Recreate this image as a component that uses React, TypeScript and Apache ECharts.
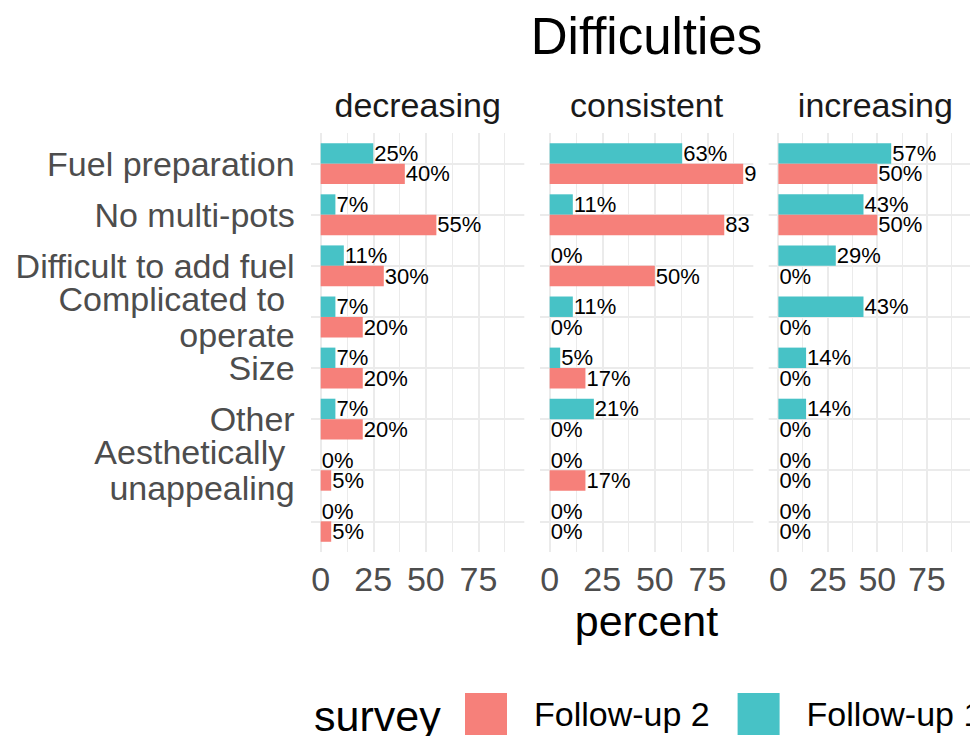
import React, { useEffect, useRef } from "react";
import * as echarts from "echarts";

// ---------------- data ----------------
const categories = [
  "Fuel preparation",
  "No multi-pots",
  "Difficult to add fuel",
  "Complicated to \noperate",
  "Size",
  "Other",
  "Aesthetically \nunappealing",
  "Stability",
];
const facets = ["decreasing", "consistent", "increasing"];
const seriesNames = ["Follow-up 2", "Follow-up 1"];

const decreasingFollowUp1 = [25, 7, 11, 7, 7, 7, 0, 0];
const decreasingFollowUp2 = [40, 55, 30, 20, 20, 20, 5, 5];
const consistentFollowUp1 = [63, 11, 0, 11, 5, 21, 0, 0];
const consistentFollowUp2 = [92, 83, 50, 0, 17, 0, 17, 0];
const increasingFollowUp1 = [57, 43, 29, 43, 14, 14, 0, 0];
const increasingFollowUp2 = [50, 50, 0, 0, 0, 0, 0, 0];

const xTicks = [0, 25, 50, 75];
const xMinorLines = [12.5, 37.5, 62.5, 87.5];

const facetData = [
  { fu1: decreasingFollowUp1, fu2: decreasingFollowUp2 },
  { fu1: consistentFollowUp1, fu2: consistentFollowUp2 },
  { fu1: increasingFollowUp1, fu2: increasingFollowUp2 },
];

// ---------------- layout / style ----------------
const FONT = "'Liberation Sans', Arial, Helvetica, sans-serif";
const COLOR_FU2 = "#F6807A";
const COLOR_FU1 = "#47C2C6";
const GRID_COLOR = "#EBEBEB";

const PANEL_LEFT = [311, 540, 768.7];
const PANEL_W = 213.3;
const PANEL_TOP = 133;
const PANEL_H = 419;
const X_MIN = -4.6;
const X_MAX = 96.8;
const Y_EXPAND = 0.6;
const LEGEND_LEFT = [465, 737.6];

function buildOption() {
  const n = categories.length;
  const unit = PANEL_W / (X_MAX - X_MIN);
  const band = PANEL_H / (n - 1 + 2 * Y_EXPAND);
  const barTop = PANEL_TOP + (Y_EXPAND - 0.5) * band;
  const barH = n * band;

  const grid: any[] = [];
  const xAxis: any[] = [];
  const yAxis: any[] = [];
  const series: any[] = [];
  const graphic: any[] = [];

  facets.forEach((facet, i) => {
    const left = PANEL_LEFT[i];
    const zeroPx = left - X_MIN * unit;
    // panel grid (background lines)
    grid.push({ left, top: PANEL_TOP, width: PANEL_W, height: PANEL_H, containLabel: false });
    xAxis.push({ type: "value", gridIndex: 2 * i, min: X_MIN, max: X_MAX, show: false });
    yAxis.push({
      type: "value",
      gridIndex: 2 * i,
      min: 1 - Y_EXPAND,
      max: n + Y_EXPAND,
      inverse: true,
      show: false,
    });

    // bar grid
    grid.push({ left: zeroPx, top: barTop, width: left + PANEL_W - zeroPx, height: barH, containLabel: false });
    xAxis.push({
      type: "value",
      gridIndex: 2 * i + 1,
      min: 0,
      max: X_MAX,
      interval: 25,
      axisLine: { show: false },
      axisTick: { show: false },
      splitLine: { show: false },
      axisLabel: {
        show: true,
        showMaxLabel: false,
        fontSize: 34,
        fontFamily: FONT,
        color: "#4D4D4D",
        margin: 15,
      },
    });
    yAxis.push({
      type: "category",
      gridIndex: 2 * i + 1,
      data: categories,
      inverse: true,
      axisLine: { show: false },
      axisTick: { show: false },
      splitLine: { show: false },
      axisLabel: {
        show: i === 0,
        fontSize: 34,
        lineHeight: 36,
        fontFamily: FONT,
        color: "#4D4D4D",
        margin: 26,
      },
    });

    const lineItems: any[] = [];
    xTicks.forEach((v) =>
      lineItems.push({ xAxis: v, lineStyle: { color: GRID_COLOR, width: 2, type: "solid" } })
    );
    xMinorLines.forEach((v) =>
      lineItems.push({ xAxis: v, lineStyle: { color: GRID_COLOR, width: 1, type: "solid" } })
    );
    categories.forEach((_, k) =>
      lineItems.push({ yAxis: k + 1, lineStyle: { color: GRID_COLOR, width: 2, type: "solid" } })
    );
    series.push({
      type: "line",
      name: "grid-" + facet,
      xAxisIndex: 2 * i,
      yAxisIndex: 2 * i,
      data: [],
      silent: true,
      z: 0,
      markLine: {
        silent: true,
        z: 0,
        symbol: ["none", "none"],
        label: { show: false },
        emphasis: { disabled: true },
        animation: false,
        data: lineItems,
      },
    });

    const mkData = (vals: number[]) =>
      vals.map((v) => ({
        value: v,
        label: {
          width: Math.max(0, (X_MAX - v) * unit + 6),
          overflow: "truncate",
          ellipsis: "",
        },
      }));
    const label = {
      show: true,
      position: "right",
      distance: 1,
      formatter: "{c}%",
      fontSize: 22,
      fontFamily: FONT,
      color: "#000000",
      textBorderWidth: 0,
      textBorderColor: "transparent",
    };
    // Follow-up 1 (teal) on top, Follow-up 2 below
    series.push({
      type: "bar",
      name: seriesNames[1],
      xAxisIndex: 2 * i + 1,
      yAxisIndex: 2 * i + 1,
      barWidth: band * 0.4,
      barGap: "0%",
      itemStyle: { color: COLOR_FU1 },
      label,
      data: mkData(facetData[i].fu1),
      z: 6,
    });
    series.push({
      type: "bar",
      name: seriesNames[0],
      xAxisIndex: 2 * i + 1,
      yAxisIndex: 2 * i + 1,
      barWidth: band * 0.4,
      barGap: "0%",
      itemStyle: { color: COLOR_FU2 },
      label,
      data: mkData(facetData[i].fu2),
      z: 6,
    });

    graphic.push({
      type: "text",
      x: left + PANEL_W / 2,
      y: 105,
      style: {
        text: facet,
        fontSize: 34,
        fontFamily: FONT,
        fill: "#1A1A1A",
        align: "center",
        verticalAlign: "middle",
        textAlign: "center",
        textVerticalAlign: "middle",
      },
    });
  });

  const centerX = (PANEL_LEFT[0] + PANEL_LEFT[2] + PANEL_W) / 2;
  graphic.push({
    type: "text",
    x: centerX,
    y: 36,
    style: {
      text: "Difficulties",
      fontSize: 51,
      fontFamily: FONT,
      fill: "#000000",
      align: "center",
      verticalAlign: "middle",
      textAlign: "center",
      textVerticalAlign: "middle",
    },
  });
  graphic.push({
    type: "text",
    x: centerX,
    y: 621,
    style: {
      text: "percent",
      fontSize: 43,
      fontFamily: FONT,
      fill: "#000000",
      align: "center",
      verticalAlign: "middle",
      textAlign: "center",
      textVerticalAlign: "middle",
    },
  });
  graphic.push({
    type: "text",
    x: 314,
    y: 716,
    style: {
      text: "survey",
      fontSize: 43,
      fontFamily: FONT,
      fill: "#000000",
      align: "left",
      verticalAlign: "middle",
      textAlign: "left",
      textVerticalAlign: "middle",
    },
  });

  const legend = seriesNames.map((name, k) => ({
    data: [name],
    left: LEGEND_LEFT[k],
    top: 693,
    width: 400,
    padding: 0,
    itemWidth: 42,
    itemHeight: 42,
    icon: "rect",
    selectedMode: false,
    textStyle: {
      fontSize: 34,
      fontFamily: FONT,
      color: "#000000",
      padding: [0, 0, 0, 22],
    },
  }));

  return {
    animation: false,
    backgroundColor: "#ffffff",
    grid,
    xAxis,
    yAxis,
    series,
    graphic,
    legend,
  };
}

export default function App() {
  const ref = useRef<HTMLDivElement>(null);
  useEffect(() => {
    if (!ref.current) return;
    const chart = echarts.init(ref.current, undefined, { renderer: "svg" });
    chart.setOption(buildOption() as any);
    return () => chart.dispose();
  }, []);
  return (
    <div
      ref={ref}
      style={{ position: "fixed", left: 0, top: 0, width: 970, height: 736, background: "#fff" }}
    />
  );
}
